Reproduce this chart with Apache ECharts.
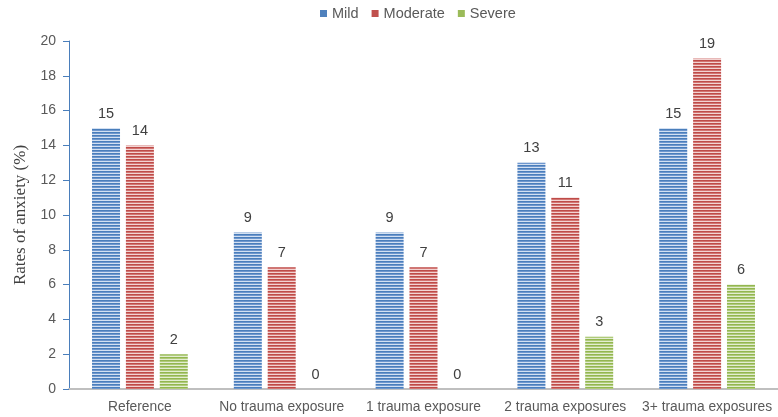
<!DOCTYPE html>
<html>
<head>
<meta charset="utf-8">
<script src="https://cdn.jsdelivr.net/npm/echarts@6/dist/echarts.min.js"></script>
<style>
html,body{margin:0;padding:0;background:#fff;}
#chart{width:778px;height:417px;}
</style>
</head>
<body>
<div id="chart"></div>
<script>
var categories = ['Reference', 'No trauma exposure', '1 trauma exposure', '2 trauma exposures', '3+ trauma exposures'];
var mild = [15, 9, 9, 13, 15];
var moderate = [14, 7, 7, 11, 19];
var severe = [2, 0, 0, 3, 6];
var yTicks = [0, 2, 4, 6, 8, 10, 12, 14, 16, 18, 20];

function stripe(dark, mid, light) {
  var c = document.createElement('canvas');
  c.width = 4; c.height = 3;
  var ctx = c.getContext('2d');
  ctx.fillStyle = dark; ctx.fillRect(0, 0, 4, 1);
  ctx.fillStyle = mid; ctx.fillRect(0, 1, 4, 1);
  ctx.fillStyle = light; ctx.fillRect(0, 2, 4, 1);
  return { image: c, repeat: 'repeat' };
}

var font = '"Liberation Sans", Arial, sans-serif';
var chart = echarts.init(document.getElementById('chart'));

function mk(name, data, pattern) {
  return {
    name: name,
    type: 'bar',
    data: data,
    barWidth: 28,
    barGap: '21%',
    itemStyle: { color: pattern },
    label: {
      show: true, position: 'top', distance: 7,
      color: '#404040', fontSize: 14.5, fontFamily: font
    }
  };
}

var series = [
  mk('Mild', mild, stripe('#4A7EBB', '#6F97CE', '#D3E0F2')),
  mk('Moderate', moderate, stripe('#BE4B48', '#D27572', '#F2D3D2')),
  mk('Severe', severe, stripe('#93B650', '#AFCB7A', '#E3EDD2'))
];

chart.setOption({
  animation: false,
  color: ['#4F81BD', '#C0504D', '#9BBB59'],
  legend: {
    top: 1, left: 315,
    itemWidth: 7, itemHeight: 7, itemGap: 13,
    icon: 'rect',
    textStyle: { color: '#595959', fontSize: 14.5, fontFamily: font },
    data: [
      { name: 'Mild', itemStyle: { color: '#4F81BD' } },
      { name: 'Moderate', itemStyle: { color: '#C0504D' } },
      { name: 'Severe', itemStyle: { color: '#9BBB59' } }
    ]
  },
  grid: { left: 69, right: 0, top: 41, bottom: 28, containLabel: false, outerBoundsMode: 'none' },
  xAxis: {
    type: 'category',
    data: categories,
    axisLine: { lineStyle: { color: '#BFBFBF', width: 2 } },
    axisTick: { show: false },
    axisLabel: { color: '#595959', fontSize: 13.8, fontFamily: font, margin: 11, interval: 0 }
  },
  yAxis: {
    type: 'value',
    min: yTicks[0], max: yTicks[yTicks.length - 1], interval: 2,
    name: 'Rates of anxiety (%)',
    nameLocation: 'middle',
    nameGap: 36,
    nameTextStyle: { color: '#404040', fontSize: 17, fontFamily: '"Liberation Serif", "DejaVu Serif", serif' },
    axisLine: { show: true, lineStyle: { color: '#4A7EBB', width: 1 } },
    axisTick: { show: true, length: 6, lineStyle: { color: '#4A7EBB' } },
    splitLine: { show: false },
    axisLabel: { color: '#595959', fontSize: 14, fontFamily: font, margin: 13 }
  },
  series: series
});
</script>
</body>
</html>
